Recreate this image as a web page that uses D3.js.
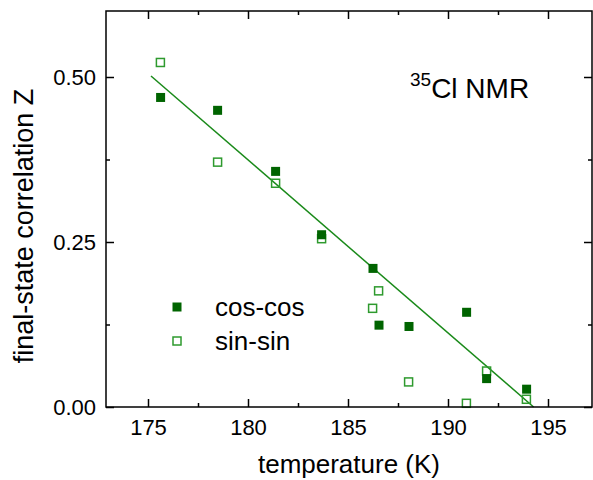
<!DOCTYPE html>
<html>
<head>
<meta charset="utf-8">
<script src="https://cdn.jsdelivr.net/npm/d3@7"></script>
<style>
  body { margin: 0; background: #fff; }
  text { font-family: "Liberation Sans", Arial, sans-serif; fill: #000; }
</style>
</head>
<body>
<div id="chart"></div>
<script>
// temperatures (K) and final-state correlation Z
const cosT = [175.63, 178.48, 181.38, 183.68, 186.25, 186.55, 188.05, 190.93, 191.93, 193.93];
const cosZ = [0.469, 0.4495, 0.357, 0.261, 0.210, 0.124, 0.122, 0.1435, 0.043, 0.027];
const sinT = [175.62, 178.48, 181.38, 183.68, 186.53, 186.23, 188.03, 190.92, 191.93, 193.92];
const sinZ = [0.522, 0.371, 0.339, 0.255, 0.176, 0.1495, 0.038, 0.0056, 0.0545, 0.0117];
const fitT = [175.15, 194.28];
const fitZ = [0.5015, 0.0];
const xTicks = [175, 180, 185, 190, 195];
const xMinor = [177.5, 182.5, 187.5, 192.5];
const yTicks = [0, 0.25, 0.5];
const yMinor = [0.125, 0.375];
const seriesNames = ["cos-cos", "sin-sin"];

const width = 593, height = 480;
const plotLeft = 106, plotRight = 592, plotTop = 11, plotBottom = 407;

const svg = d3.select("#chart").append("svg")
  .attr("width", width)
  .attr("height", height);

const x = d3.scaleLinear().domain([172.9, 197.2]).range([plotLeft, plotRight]);
const y = d3.scaleLinear().domain([0, 0.6]).range([plotBottom, plotTop]);

const darkGreen = "#006400";
const lightGreen = "#2e9a2e";
const lineGreen = "#1a8a1a";

// fit line
svg.append("line")
  .attr("x1", x(fitT[0])).attr("y1", y(fitZ[0]))
  .attr("x2", x(fitT[1])).attr("y2", y(fitZ[1]))
  .attr("stroke", lineGreen)
  .attr("stroke-width", 1.5);

// sin-sin (open squares)
svg.append("g").selectAll("rect")
  .data(sinT.map((t, i) => ({ t: t, z: sinZ[i] })))
  .enter().append("rect")
  .attr("x", d => x(d.t) - 4)
  .attr("y", d => y(d.z) - 4)
  .attr("width", 8)
  .attr("height", 8)
  .attr("fill", "none")
  .attr("stroke", lightGreen)
  .attr("stroke-width", 1.5);

// cos-cos (filled squares)
svg.append("g").selectAll("rect")
  .data(cosT.map((t, i) => ({ t: t, z: cosZ[i] })))
  .enter().append("rect")
  .attr("x", d => x(d.t) - 4.5)
  .attr("y", d => y(d.z) - 4.5)
  .attr("width", 9)
  .attr("height", 9)
  .attr("fill", darkGreen);

// axes: ticks inward, on all four sides
function styleAxis(g) {
  g.selectAll(".domain").remove();
  g.selectAll("line").attr("stroke", "#000").attr("stroke-width", 1.5);
}

const xAxis = svg.append("g")
  .attr("transform", `translate(0,${plotBottom})`)
  .call(d3.axisBottom(x).tickValues(xTicks).tickSize(-8).tickFormat(d3.format("d")))
  .call(styleAxis);
xAxis.selectAll("text")
  .attr("y", 28).attr("dy", 0)
  .style("font-size", "22px");

svg.append("g")
  .attr("transform", `translate(0,${plotBottom})`)
  .call(d3.axisBottom(x).tickValues(xMinor).tickSize(-4).tickFormat(""))
  .call(styleAxis);

svg.append("g")
  .attr("transform", `translate(0,${plotTop})`)
  .call(d3.axisTop(x).tickValues(xTicks).tickSize(-8).tickFormat(""))
  .call(styleAxis);
svg.append("g")
  .attr("transform", `translate(0,${plotTop})`)
  .call(d3.axisTop(x).tickValues(xMinor).tickSize(-4).tickFormat(""))
  .call(styleAxis);

const yAxis = svg.append("g")
  .attr("transform", `translate(${plotLeft},0)`)
  .call(d3.axisLeft(y).tickValues(yTicks).tickSize(-8).tickFormat(d3.format(".2f")))
  .call(styleAxis);
yAxis.selectAll("text")
  .attr("x", -10).attr("dy", "0.35em")
  .style("font-size", "22px");

svg.append("g")
  .attr("transform", `translate(${plotLeft},0)`)
  .call(d3.axisLeft(y).tickValues(yMinor).tickSize(-4).tickFormat(""))
  .call(styleAxis);

svg.append("g")
  .attr("transform", `translate(${plotRight},0)`)
  .call(d3.axisRight(y).tickValues(yTicks).tickSize(-8).tickFormat(""))
  .call(styleAxis);
svg.append("g")
  .attr("transform", `translate(${plotRight},0)`)
  .call(d3.axisRight(y).tickValues(yMinor).tickSize(-4).tickFormat(""))
  .call(styleAxis);

// frame
svg.append("rect")
  .attr("x", plotLeft).attr("y", plotTop)
  .attr("width", plotRight - plotLeft).attr("height", plotBottom - plotTop)
  .attr("fill", "none")
  .attr("stroke", "#000")
  .attr("stroke-width", 1.5);

// axis titles
svg.append("text")
  .attr("x", 349).attr("y", 473)
  .attr("text-anchor", "middle")
  .style("font-size", "26px")
  .text("temperature (K)");

svg.append("text")
  .attr("transform", "translate(33,226) rotate(-90)")
  .attr("text-anchor", "middle")
  .style("font-size", "27px")
  .text("final-state correlation Z");

// annotation
const note = svg.append("text")
  .attr("x", 410).attr("y", 98)
  .style("font-size", "28px");
note.append("tspan").attr("dy", -12).style("font-size", "19px").text("35");
note.append("tspan").attr("dy", 12).text("Cl NMR");

// legend
const legend = svg.append("g");
legend.append("rect")
  .attr("x", 177 - 4.5).attr("y", 307 - 4.5)
  .attr("width", 9).attr("height", 9)
  .attr("fill", darkGreen);
legend.append("rect")
  .attr("x", 177 - 4).attr("y", 341 - 4)
  .attr("width", 8).attr("height", 8)
  .attr("fill", "none")
  .attr("stroke", lightGreen)
  .attr("stroke-width", 1.5);
legend.selectAll("text")
  .data(seriesNames)
  .enter().append("text")
  .attr("x", 215)
  .attr("y", (d, i) => 316 + i * 34)
  .style("font-size", "26px")
  .text(d => d);
</script>
</body>
</html>
